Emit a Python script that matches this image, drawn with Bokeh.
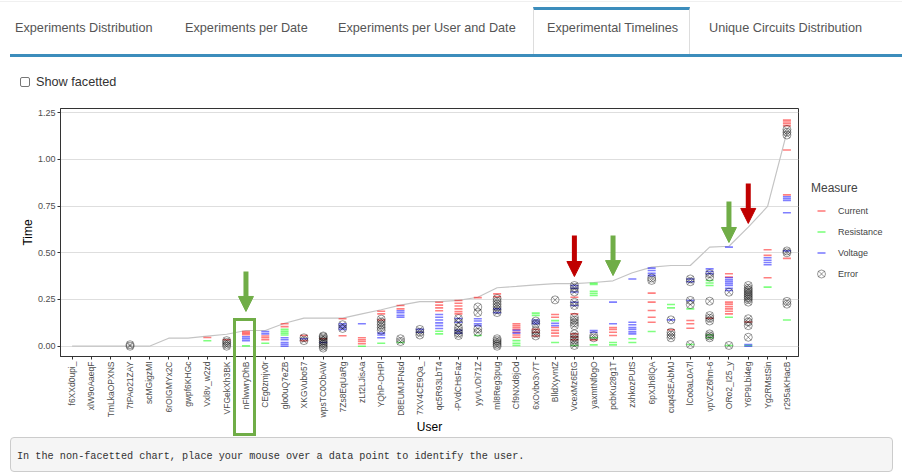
import math
from bokeh.plotting import figure
from bokeh.models import (FactorRange, Range1d, Legend, LegendItem, FixedTicker,
                          PrintfTickFormatter, Arrow, NormalHead, Div)
from bokeh.layouts import column, row
from bokeh.embed import file_html
from bokeh.resources import INLINE

# ---------------- data ----------------
tabs = ["Experiments Distribution", "Experiments per Date", "Experiments per User and Date",
        "Experimental Timelines", "Unique Circuits Distribution"]
checkbox_label = "Show facetted"
note = "In the non-facetted chart, place your mouse over a data point to identify the user."

users = ["f6XXd0upi_", "xlW9oAaeqF", "TmLkaOPXNS", "7tPAo21ZAY", "scMGigzMI", "6rOIGMYx2C",
         "gwpf6KHGc", "Vxl8v_w2zd", "VFGekXh3BK", "nFlwwryDhB", "CEg0zmjv0r", "glo0uQ7eZB",
         "XKGVubo57", "wpsTC0ObAW", "7Zs8EqUaRg", "zLt2LJisAa", "YQhP-OHPl", "D8EUMJFNsd",
         "7XV4CE9Qa_", "qc5R93LbT4", "-PVdCHsFaz", "yyvLvDi71Z", "ml8Reg3pug", "Cf9NXd8jOd",
         "6xOvbo3v7T", "BlldXyvntZ", "VcexMz6EtG", "yaxmtNf0gO", "pcbKu28g1T", "zxhkozPUtS",
         "6pXJh8lQA", "cuq4SEAbMJ", "lCo0aL0A7l", "vpVCZ6hm-6", "ORo2_I25_y", "Y6P9Lbi4eg",
         "Yg2RMstSin", "r295aKHacB"]

timeline = [0, 0, 0, 0, 0, 0.043, 0.043, 0.054, 0.064, 0.084, 0.084, 0.123, 0.15, 0.15,
            0.15, 0.173, 0.195, 0.22, 0.239, 0.239, 0.245, 0.262, 0.313, 0.32, 0.328, 0.335,
            0.335, 0.341, 0.35, 0.393, 0.423, 0.432, 0.432, 0.53, 0.535, 0.637, 0.748, 1.146]

current = [[], [], [], [], [], [], [], [0.047], [0.035], [0.078, 0.07, 0.062],
           [0.055, 0.045, 0.035], [0.12, 0.105], [0.057, 0.03], [0.04],
           [0.147, 0.056], [0.045, 0.035, 0.025, 0.013], [0.187, 0.173, 0.14],
           [0.218, 0.2], [], [0.235, 0.22, 0.205, 0.19],
           [0.245, 0.23, 0.215, 0.2, 0.185, 0.173], [0.26], [0.28, 0.265],
           [0.12, 0.11, 0.1, 0.09, 0.075, 0.06, 0.048], [0.09, 0.075, 0.055],
           [0.17, 0.155, 0.1, 0.085, 0.07, 0.055], [0.262, 0.173, 0.066, 0.05, 0.035],
           [0.034], [0.1, 0.09, 0.075, 0.057], [], [0.284, 0.236, 0.191, 0.155, 0.128],
           [0.088], [0.138, 0.12, 0.096], [0.15],
           [0.388, 0.37, 0.236, 0.225, 0.212, 0.2, 0.187, 0.173], [0.13],
           [0.516, 0.486, 0.366], [1.21, 1.2, 1.19, 1.18, 1.05, 0.81, 0.47]]

resistance = [[], [], [], [], [], [], [], [0.029], [], [0.002], [0.016],
              [0.09, 0.08, 0.07, 0.06], [], [], [], [0.0], [0.016], [0.02], [],
              [0.08, 0.066], [], [0.057], [], [0.03, 0.015, 0.004], [0.177, 0.165],
              [0.137, 0.02], [0.004], [0.337, 0.33, 0.294, 0.283, 0.271, 0.045, 0.007],
              [0.02, 0.007], [0.04, 0.02], [0.079], [0.223, 0.205], [0.2, 0.009],
              [0.352, 0.338, 0.325, 0.06, 0.045], [0.155, 0.004], [0.004], [0.316], [0.14]]

voltage = [[], [], [], [], [], [], [], [], [], [0.05, 0.04, 0.03], [0.078, 0.066],
           [0.045, 0.035, 0.02, 0.01, 0.0], [0.04], [0.02], [0.12, 0.11, 0.1, 0.09],
           [0.12], [0.07, 0.06, 0.045], [0.19, 0.18, 0.165, 0.155], [0.09, 0.075],
           [0.17, 0.155, 0.14, 0.125, 0.11, 0.095], [0.148, 0.128, 0.085, 0.07],
           [0.147, 0.135, 0.12, 0.11], [0.2, 0.18], [0.085, 0.07], [0.14, 0.13, 0.12],
           [0.123, 0.11], [0.325, 0.31, 0.29, 0.235, 0.218], [0.084, 0.075], [0.236, 0.12],
           [0.36, 0.128, 0.115, 0.1, 0.09, 0.077, 0.066], [0.418, 0.405, 0.39, 0.378],
           [0.141], [0.36, 0.345, 0.245], [0.414, 0.4, 0.388],
           [0.53, 0.366, 0.355, 0.345, 0.335, 0.325, 0.31, 0.298], [0.009, 0.0],
           [0.473, 0.46, 0.448, 0.436], [0.8, 0.79, 0.78, 0.714, 0.51]]

errors = [[], [], [], [0.0, 0.008], [], [], [], [], [0.0, 0.01, 0.02, 0.03], [], [], [],
          [0.045, 0.03], [-0.01, 0.0, 0.01, 0.02, 0.03, 0.04, 0.05, 0.055], [0.115, 0.095],
          [], [0.145, 0.13, 0.115, 0.1, 0.085], [0.04, 0.025], [0.09, 0.075, 0.06], [],
          [0.148, 0.128, 0.1, 0.085, 0.07, 0.057], [0.21, 0.18, 0.093, 0.075],
          [0.255, 0.24, 0.225, 0.21, 0.195, 0.18, 0.04, 0.03, 0.02, 0.01, 0.0], [],
          [0.135, 0.12, 0.084, 0.07, 0.055], [0.248],
          [0.325, 0.31, 0.29, 0.235, 0.218, 0.155, 0.14, 0.125, 0.11, 0.066, 0.05, 0.035,
           0.02, 0.004],
          [0.057, 0.045], [], [], [0.365, 0.352], [0.141, 0.075, 0.06, 0.045],
          [0.36, 0.345, 0.245, 0.223, 0.009],
          [0.388, 0.37, 0.241, 0.164, 0.15, 0.135, 0.066, 0.055, 0.045], [0.289, 0.004],
          [0.325, 0.31, 0.3, 0.29, 0.28, 0.27, 0.26, 0.25, 0.236, 0.147, 0.13, 0.11, 0.048],
          [], [1.16, 1.145, 1.13, 0.51, 0.5, 0.24, 0.225]]

y_ticks = [0, 0.25, 0.5, 0.75, 1.0, 1.25]
measures = ["Current", "Resistance", "Voltage", "Error"]

# highlighted users (annotations drawn over the chart)
arrow_users = ["nFlwwryDhB", "VcexMz6EtG", "pcbKu28g1T", "ORo2_I25_y", "Y6P9Lbi4eg"]
arrow_kind = ["green", "red", "green", "green", "red"]

# ---------------- styling / layout ----------------
FONT = "Liberation Sans"
GREEN_A = "#70AD47"
RED_A = "#C00000"
TAB_BLUE = "#3C8DBC"
arrow_top = [0.40, 0.593, 0.593, 0.775, 0.871]
arrow_tip = [0.186, 0.373, 0.378, 0.555, 0.657]
tab_x = [15, 185, 338, 547, 709]
DASH = dict(marker="dash", size=8, line_alpha=0.5, line_width=1.6)
ERR = dict(marker="circle_x", size=8, fill_alpha=0, line_color="black", line_alpha=0.5,
           line_width=0.8)
MEASURE_COLORS = ["red", "#00FF00", "blue"]


def flatten(series):
    xs, ys = [], []
    for u, vals in zip(users, series):
        for v in vals:
            xs.append(u)
            ys.append(v)
    return xs, ys


# ---------- header (tabs + checkbox) ----------
span = ("position:absolute;left:{x}px;top:{y}px;font-size:12.7px;line-height:16px;"
        "color:{c};white-space:nowrap;")
parts = ['<div style="position:relative;width:902px;height:100px;'
         'font-family:\'Liberation Sans\',Arial,sans-serif;">',
         '<div style="position:absolute;left:0px;top:1px;width:902px;height:1px;'
         'background:#F0F0F0;"></div>',
         '<div style="position:absolute;left:533px;top:7px;width:157px;height:49px;'
         'background:#fff;border-left:1px solid #ddd;border-right:1px solid #ddd;'
         'border-top:3px solid %s;"></div>' % TAB_BLUE,
         '<div style="position:absolute;left:10px;top:54px;width:892px;height:3px;'
         'background:%s;"></div>' % TAB_BLUE]
for t, x in zip(tabs, tab_x):
    parts.append('<span style="%s">%s</span>' % (span.format(x=x, y=20, c="#555"), t))
parts.append('<div style="position:absolute;left:20px;top:77px;width:10px;height:10px;'
             'box-sizing:border-box;border:1px solid #767676;border-radius:2px;'
             'background:#fff;"></div>')
parts.append('<span style="%s">%s</span>' % (span.format(x=36, y=74, c="#333"), checkbox_label))
parts.append('</div>')
header = Div(text="".join(parts), width=902, height=100, margin=0,
             styles={"overflow": "visible"})

# ---------- main chart ----------
p = figure(width=806, height=337,
           x_range=FactorRange(factors=users, range_padding=0.1, range_padding_units="absolute"),
           y_range=Range1d(-0.055, 1.272), output_backend="svg", toolbar_location=None,
           min_border_left=60, min_border_right=8, min_border_top=8, min_border_bottom=81)

p.line(x=users, y=timeline, line_color="#C4C4C4", line_width=1.2)
renderers = []
for series, col in zip([current, resistance, voltage], MEASURE_COLORS):
    xs, ys = flatten(series)
    renderers.append(p.scatter(x=xs, y=ys, line_color=col, **DASH))
ex, ey = flatten(errors)
renderers.append(p.scatter(x=ex, y=ey, **ERR))

p.xgrid.visible = False
p.ygrid.ticker = FixedTicker(ticks=y_ticks)
p.ygrid.grid_line_color = "#DEDEDE"
p.yaxis.ticker = FixedTicker(ticks=y_ticks)
p.yaxis.formatter = PrintfTickFormatter(format="%.2f")
p.outline_line_color = "#333333"
for ax in (p.xaxis, p.yaxis):
    ax.axis_line_color = "#333333"
    ax.major_tick_line_color = "#333333"
    ax.minor_tick_line_color = None
    ax.major_tick_in = 0
    ax.major_tick_out = 3
    ax.major_label_text_font = FONT
    ax.major_label_text_color = "#4D4D4D"
    ax.axis_label_text_font = FONT
    ax.axis_label_text_font_size = "12px"
    ax.axis_label_text_font_style = "normal"
    ax.axis_label_text_color = "black"
p.yaxis.major_label_text_font_size = "9px"
p.xaxis.major_label_text_font_size = "8.5px"
p.xaxis.axis_label = "User"
p.yaxis.axis_label = "Time"
p.xaxis.major_label_orientation = math.pi / 2
p.xaxis.major_label_standoff = 2
p.xaxis.axis_label_standoff = 0
p.yaxis.major_label_standoff = 2
p.yaxis.axis_label_standoff = 0

for u, kind, top, tip in zip(arrow_users, arrow_kind, arrow_top, arrow_tip):
    col = GREEN_A if kind == "green" else RED_A
    xi = users.index(u) + 0.5
    p.add_layout(Arrow(end=NormalHead(size=15, fill_color=col, line_color=col),
                       x_start=xi, y_start=top, x_end=xi, y_end=tip,
                       line_color=col, line_width=5))

# ---------- legend (own small figure to the right of the chart) ----------
lf = figure(width=96, height=337, x_range=Range1d(0, 1), y_range=Range1d(0, 1),
            x_axis_type=None, y_axis_type=None, outline_line_color=None,
            min_border_left=0, min_border_right=0, min_border_top=8, min_border_bottom=81,
            output_backend="svg", toolbar_location=None)
lf.grid.visible = False
# legend key renderers: one point each, placed outside the visible range
lrs = [lf.scatter(x=[5], y=[5], line_color=c, **DASH) for c in MEASURE_COLORS]
lrs.append(lf.scatter(x=[5], y=[5], **ERR))
legend = Legend(items=[LegendItem(label=m, renderers=[r]) for m, r in zip(measures, lrs)],
                title="Measure", location=(5, 72), orientation="vertical",
                border_line_color=None, background_fill_alpha=0, margin=0, padding=4,
                spacing=0, glyph_width=20, glyph_height=21, label_height=21,
                label_standoff=7, label_text_font=FONT, label_text_font_size="9px",
                title_text_font=FONT, title_text_font_size="12px",
                title_text_font_style="normal", title_standoff=5)
lf.add_layout(legend)

# ---------- footer note (+ highlight box around one user) ----------
fparts = ['<div style="position:relative;width:902px;height:38px;">',
          '<div style="position:absolute;left:10px;top:0px;width:883px;height:35px;'
          'box-sizing:border-box;background:#F5F5F5;border:1px solid #CCC;'
          'border-radius:4px;"></div>',
          '<span style="position:absolute;left:17px;top:12px;line-height:16px;'
          'font-family:\'Liberation Mono\',monospace;font-size:10.2px;color:#333;'
          'white-space:nowrap;">%s</span>' % note,
          '<div style="position:absolute;left:233px;top:-119px;width:23px;height:118px;'
          'box-sizing:border-box;border:3px solid %s;pointer-events:none;"></div>' % GREEN_A,
          '</div>']
footer = Div(text="".join(fparts), width=902, height=38, margin=0,
             styles={"overflow": "visible"})

layout = column(header, row(p, lf, spacing=0), footer, spacing=0)
open("out.html", "w").write(file_html(layout, INLINE))
